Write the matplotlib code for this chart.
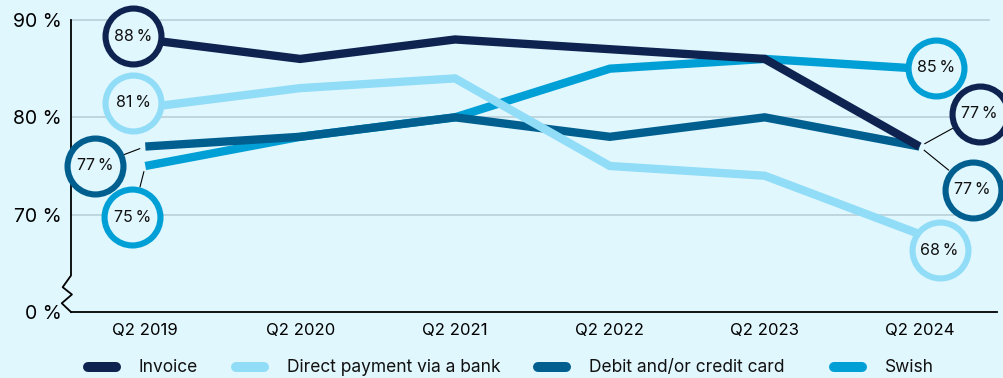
import matplotlib.pyplot as plt
from matplotlib.lines import Line2D
from matplotlib.transforms import offset_copy

plt.rcParams['font.family'] = ['Inter', 'DejaVu Sans']

quarters = ['Q2 2019', 'Q2 2020', 'Q2 2021', 'Q2 2022', 'Q2 2023', 'Q2 2024']
invoice = [88, 86, 88, 87, 86, 77]
direct_bank = [81, 83, 84, 75, 74, 68]
card = [77, 78, 80, 78, 80, 77]
swish = [75, 78, 80, 85, 86, 85]

series_names = ['Invoice', 'Direct payment via a bank', 'Debit and/or credit card', 'Swish']
ytick_vals = [60, 70, 80, 90]
ytick_labels = ['0 %', '70 %', '80 %', '90 %']

bg = '#e1f7fe'
colors = {'Invoice': '#0f2350', 'Direct payment via a bank': '#91ddf7',
          'Debit and/or credit card': '#005f8f', 'Swish': '#00a0d6'}
values = {'Invoice': invoice, 'Direct payment via a bank': direct_bank,
          'Debit and/or credit card': card, 'Swish': swish}

# end labels: (series, index, dx px, dy px, leader line)
end_labels = [
    ('Invoice', 0, -12, 3, False),
    ('Direct payment via a bank', 0, -12, 5, False),
    ('Debit and/or credit card', 0, -50, -19, True),
    ('Swish', 0, -13, -51, True),
    ('Swish', 5, 16, 1, False),
    ('Invoice', 5, 60, 33, True),
    ('Debit and/or credit card', 5, 53, -43, True),
    ('Direct payment via a bank', 5, 20, -16, False),
]

W, H = 1004, 378
fig = plt.figure(figsize=(W / 100, H / 100), dpi=100, facecolor=bg)
ax = fig.add_axes([71 / W, 66 / H, 926 / W, 292 / H], facecolor=bg)

x = list(range(len(quarters)))
for name in ['Swish', 'Debit and/or credit card', 'Direct payment via a bank', 'Invoice']:
    ax.plot(x, values[name], color=colors[name], lw=6, solid_capstyle='butt',
            solid_joinstyle='miter', zorder=3)

for yv in [70, 80, 90]:
    ax.plot([-0.48, 5.45], [yv, yv], color='#b7ccd6', lw=1.1, zorder=1, clip_on=False)

ax.set_xlim(-0.48, 5.5)
ax.set_ylim(60, 90)
ax.set_xticks(x)
ax.set_xticklabels(quarters, fontsize=12)
ax.set_yticks(ytick_vals)
ax.set_yticklabels(ytick_labels, fontsize=14)
ax.tick_params(length=0, pad=8)
ax.tick_params(axis='y', pad=7)
for s in ['top', 'right', 'left']:
    ax.spines[s].set_visible(False)
ax.spines['bottom'].set_color('black')
ax.spines['bottom'].set_linewidth(1.3)

# left axis with a zig-zag break above zero
bx = [0, 0, -0.009, 0.001, -0.01, 0]
by = [1.0, 0.125, 0.085, 0.06, 0.03, 0.0]
ax.plot(bx, by, transform=ax.transAxes, color='black', lw=1.3, clip_on=False, zorder=4)

for name, i, dx, dy, leader in end_labels:
    col = colors[name]
    tr = offset_copy(ax.transData, fig=fig, x=dx, y=dy, units='dots')
    ax.scatter([i], [values[name][i]], s=1620, marker='o', facecolor=bg,
               edgecolor=col, linewidth=4.4, transform=tr, zorder=6, clip_on=False)
    ax.text(i, values[name][i], f'{values[name][i]}\u2009%',
            transform=tr, ha='center', va='center', fontsize=11.5,
            color='#111111', zorder=7, clip_on=False)
    if leader:
        d = (dx ** 2 + dy ** 2) ** 0.5
        ux, uy = dx / d, dy / d
        p0 = ax.transData.transform((i, values[name][i]))
        a = p0 + [ux * 6, uy * 6]
        b = p0 + [ux * (d - 31), uy * (d - 31)]
        inv = ax.transData.inverted()
        a, b = inv.transform(a), inv.transform(b)
        ax.plot([a[0], b[0]], [a[1], b[1]], color='black', lw=0.8, zorder=5, clip_on=False)

# legend row: rounded swatch + label
legend_x = [83, 231, 533, 829]
ly = 1 - 367 / H
for name, lx in zip(series_names, legend_x):
    fig.add_artist(Line2D([(lx + 5) / W, (lx + 33) / W], [ly, ly], color=colors[name],
                          lw=7.2, solid_capstyle='round'))
    fig.text((lx + 56) / W, ly, name, fontsize=12.5, ha='left', va='center', color='#111111')

fig.savefig('out.png', dpi=100, facecolor=bg)
